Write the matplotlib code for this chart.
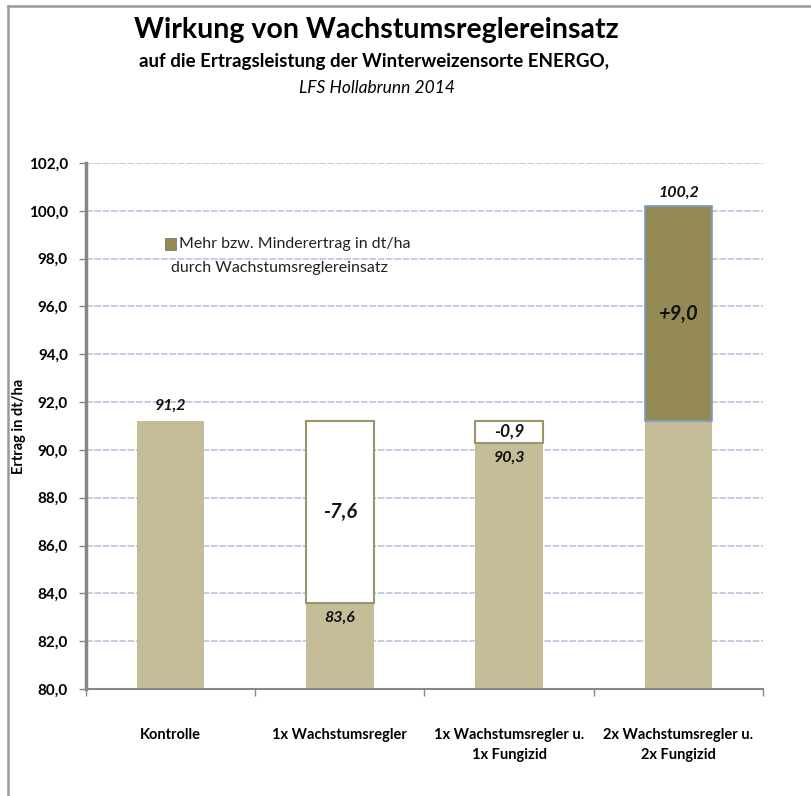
import numpy as np
import matplotlib
matplotlib.use('Agg')
from matplotlib import pyplot as plt
from matplotlib.lines import Line2D

plt.rcParams['font.family'] = ['Lato', 'DejaVu Sans']

# data
categories = ['Kontrolle', '1x Wachstumsregler', '1x Wachstumsregler u.\n1x Fungizid',
              '2x Wachstumsregler u.\n2x Fungizid']
kontrolle = 91.2
ertrag = [91.2, 83.6, 90.3, 100.2]
differenz = [0.0, -7.6, -0.9, 9.0]
y_ticks = [80, 82, 84, 86, 88, 90, 92, 94, 96, 98, 100, 102]

tan = '#C4BD97'
olive = '#948A54'
grid_col = '#B8C6DF'

fig = plt.figure(figsize=(8.12, 7.96), dpi=100)
ax = fig.add_axes([86 / 812, 1 - 689 / 796, 677 / 812, 526 / 796])

x = np.arange(len(categories))
w = 0.4
for i in range(len(categories)):
    base = min(ertrag[i], kontrolle)
    ax.bar(x[i], base - 80, bottom=80, width=w, color=tan, zorder=2)
    d = differenz[i]
    if d < 0:
        ax.bar(x[i], -d, bottom=ertrag[i], width=w, color='white',
               edgecolor='#9C946A', linewidth=1.5, zorder=3)
    elif d > 0:
        ax.bar(x[i], d, bottom=kontrolle, width=w, color=olive,
               edgecolor='#7A9BC9', linewidth=1.2, zorder=3)

lab = dict(fontweight='bold', fontstyle='italic', ha='center', color='#111111', zorder=5)
fmt = lambda v: ('%.1f' % v).replace('.', ',')
ax.text(x[0], ertrag[0] + 0.35, fmt(ertrag[0]), fontsize=11.5, va='bottom', **lab)
ax.text(x[1], ertrag[1] - 0.35, fmt(ertrag[1]), fontsize=11.5, va='top', **lab)
ax.text(x[1], ertrag[1] - differenz[1] / 2, fmt(differenz[1]), fontsize=14.5, va='center', **lab)
ax.text(x[2], (ertrag[2] + kontrolle) / 2, fmt(differenz[2]), fontsize=12.5, va='center', **lab)
ax.text(x[2], ertrag[2] - 0.35, fmt(ertrag[2]), fontsize=11.5, va='top', **lab)
ax.text(x[3], kontrolle + differenz[3] / 2, '+' + fmt(differenz[3]), fontsize=14.5, va='center', **lab)
ax.text(x[3], ertrag[3] + 0.25, fmt(ertrag[3]), fontsize=11.5, va='bottom', **lab)

ax.set_ylim(80, 102)
ax.set_xlim(-0.5, len(categories) - 0.5)
ax.set_yticks(y_ticks)
ax.set_yticklabels([fmt(v) for v in y_ticks], fontweight='bold', fontsize=11)
ax.yaxis.grid(True, color=grid_col, linewidth=1.2, linestyle=(0, (4, 1)), zorder=0)
ax.set_axisbelow(True)

ax.set_xticks(np.arange(len(categories) + 1) - 0.5)
ax.set_xticklabels([])
ax.tick_params(axis='x', length=5, color='#888888', width=1)
ax.tick_params(axis='y', length=5, color='#888888', width=1, pad=8)
for i, c in enumerate(categories):
    ax.text(x[i], -0.075, c, transform=ax.get_xaxis_transform(), ha='center', va='top',
            fontsize=10.5, fontweight='bold', linespacing=1.5)

for s in ['top', 'right']:
    ax.spines[s].set_visible(False)
ax.spines['left'].set_color('#878787')
ax.spines['left'].set_linewidth(2.5)
ax.spines['bottom'].set_color('#878787')
ax.spines['bottom'].set_linewidth(1.5)

ax.set_ylabel('Ertrag in dt/ha', fontweight='bold', fontsize=10.5, labelpad=2)

# legend
ax.add_patch(plt.Rectangle((0.117, 0.835), 0.016, 0.022, transform=ax.transAxes,
                           facecolor=olive, edgecolor='#777777', linewidth=0.6, zorder=6))
ax.text(0.137, 0.846, 'Mehr bzw. Minderertrag in dt/ha', transform=ax.transAxes,
        fontsize=11.5, va='center', ha='left', color='#222222')
ax.text(0.125, 0.800, 'durch Wachstumsreglereinsatz', transform=ax.transAxes,
        fontsize=11.5, va='center', ha='left', color='#222222')

# titles
fig.text(376 / 812, 1 - 30 / 796, 'Wirkung von Wachstumsreglereinsatz', ha='center', va='center',
         fontsize=20.5, fontweight='bold')
fig.text(374 / 812, 1 - 62 / 796, 'auf die Ertragsleistung der Winterweizensorte ENERGO,',
         ha='center', va='center', fontsize=13.5, fontweight='bold')
fig.text(377 / 812, 1 - 88 / 796, 'LFS Hollabrunn 2014', ha='center', va='center',
         fontsize=12.5, fontstyle='italic')

# frame
fig.add_artist(Line2D([8.5 / 812, 8.5 / 812], [0, 1 - 5.5 / 796], color='#999999', linewidth=1.8))
fig.add_artist(Line2D([8.5 / 812, 1], [1 - 5.5 / 796, 1 - 5.5 / 796], color='#999999', linewidth=1.8))

fig.savefig('out.png', dpi=100)
